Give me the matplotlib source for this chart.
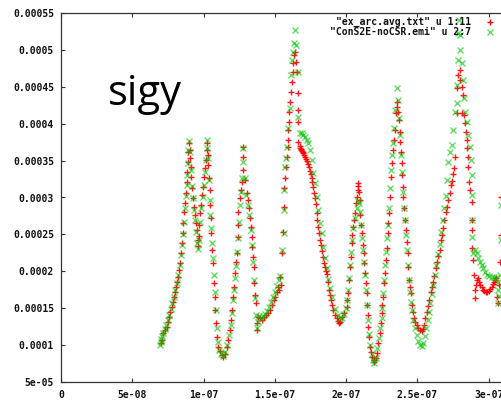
import matplotlib
matplotlib.use("Agg")
import matplotlib.pyplot as plt
from matplotlib.lines import Line2D
import numpy as np

# ---- data (x in ns, y in 1e-6) ----
red_x = [70.1,70.8,71.7,72.9,74.1,75.0,76.0,76.8,77.6,78.5,79.2,79.9,80.6,81.3,82.3,82.8,83.5,84.2,84.6,85.3,85.8,86.5,87.0,87.7,88.1,88.7,89.3,89.4,89.8,
         90.5,90.8,91.2,91.5,92.1,92.8,93.5,94.0,94.5,95.2,95.9,96.1,
         96.8,97.1,97.5,98.2,99.1,99.8,100.5,101.0,101.5,102.2,102.4,
         103.1,103.3,103.8,104.5,104.5,105.2,105.2,105.9,106.4,107.3,108.0,108.0,108.5,109.2,110.1,111.5,112.7,113.6,114.7,116.2,117.1,118.5,119.2,119.9,120.6,121.3,122.0,122.7,123.2,123.9,124.1,124.1,125.5,126.2,126.7,127.4,127.8,127.6,
         129.0,130.2,131.1,131.8,132.5,133.2,133.7,134.2,134.6,135.4,135.6,136.0,136.5,137.2,137.5,138.2,
         139.6,141.0,142.4,143.8,145.2,146.6,148.0,149.4,150.1,151.5,152.2,152.9,153.6,154.3,
         155.0,155.7,156.4,156.6,157.1,157.6,158.3,159.0,159.4,159.4,159.9,160.1,160.6,161.3,162.2,162.5,162.9,163.6,164.1,
         164.6,165.3,166.0,166.4,166.4,166.4,
         167.3,167.6,168.0,168.3,168.8,169.4,169.7,170.4,171.1,171.8,172.5,173.2,173.9,174.6,175.4,175.8,176.4,176.9,177.6,178.1,178.6,179.3,179.9,180.4,180.9,181.6,182.3,183.0,184.0,184.4,185.1,185.8,186.3,187.2,187.9,188.7,189.4,190.1,191.0,192.2,193.3,194.3,195.0,195.7,
         196.9,198.5,200.4,200.9,201.5,202.0,202.7,203.4,203.9,204.4,205.0,205.5,206.2,206.7,207.4,208.1,208.5,208.6,
         209.0,209.7,209.7,210.4,210.9,212.0,212.7,212.7,213.2,213.7,214.4,214.4,215.1,215.5,216.0,216.7,217.4,218.3,219.2,219.7,220.6,
         221.4,222.5,223.7,224.4,224.9,225.3,226.0,226.7,227.2,227.7,228.4,229.1,229.5,230.0,230.7,231.4,231.9,233.0,233.7,234.2,234.7,235.4,
         236.0,236.5,237.0,237.7,237.7,238.4,238.9,239.4,239.8,240.1,240.8,241.2,241.7,242.4,243.1,243.6,244.1,244.8,245.5,246.4,247.1,247.8,248.6,249.5,250.6,251.8,253.0,253.9,
         254.6,255.6,256.5,257.4,258.4,259.5,260.0,260.9,261.9,263.0,263.5,264.4,265.5,266.5,267.0,267.9,268.9,270.0,270.5,271.4,272.5,273.5,274.0,274.9,275.6,276.3,277.5,277.5,278.6,279.8,
         279.8,281.0,282.1,281.0,282.8,283.3,283.8,284.5,284.5,285.2,285.6,286.1,286.8,288.0,288.4,288.4,288.4,289.1,289.6,290.3,290.3,
         291.0,291.7,292.6,293.5,294.2,295.0,295.9,297.0,298.0,299.1,300.2,301.2,302.0,303.0,303.7,304.4,305.1,
         305.8,306.7,307.2,307.9,308.6,308.9]
red_y = [102.8,106.9,116.4,120.5,124.5,131.3,138.1,144.9,151.6,158.4,165.2,172.0,178.7,185.5,192.3,201.8,211.2,224.8,238.3,251.9,265.4,280.3,292.5,306.1,321.0,334.5,348.1,361.7,373.8,
         364.4,353.5,341.3,327.8,312.9,299.3,287.1,276.3,265.4,256.0,242.4,234.3,
         247.8,262.7,279.0,289.8,303.4,314.2,327.8,340.0,350.8,364.4,373.8,
         357.6,344.0,326.4,310.2,289.8,272.2,251.9,228.9,211.2,184.1,165.2,147.6,129.9,111.0,97.4,92.0,86.6,83.9,87.9,97.4,106.9,120.5,134.0,147.6,165.2,178.7,197.7,212.6,224.8,246.5,262.7,280.3,299.3,310.2,321.0,337.3,354.9,368.4,
         323.7,306.1,296.6,285.8,272.2,260.0,246.5,232.9,219.4,205.8,184.1,167.9,157.0,129.9,120.5,138.1,
         136.7,134.0,138.1,140.8,143.5,147.6,154.3,161.1,165.2,172.0,178.7,174.7,192.3,181.4,
         224.8,253.2,287.1,312.9,326.4,341.3,354.9,368.4,377.9,391.5,402.3,415.9,429.4,443.0,456.5,470.1,482.2,493.1,497.1,
         483.6,470.1,441.6,418.6,402.3,375.2,
         369.8,367.1,365.7,364.4,363.0,361.7,360.3,357.6,354.9,352.2,349.5,345.4,341.3,335.9,331.8,326.4,321.0,314.2,306.1,299.3,291.2,279.0,269.5,260.0,251.9,242.4,235.6,227.5,219.4,211.2,205.8,200.4,196.3,185.5,174.7,167.9,161.1,154.3,147.6,140.8,136.7,132.7,129.9,131.3,
         138.1,143.5,151.6,161.1,170.6,188.2,205.8,219.4,238.3,249.2,260.0,269.5,279.0,292.5,300.7,310.2,315.6,319.6,
         307.5,296.6,276.3,262.7,251.9,235.6,224.8,211.2,197.7,184.1,170.6,154.3,140.8,124.5,111.0,97.4,90.7,83.9,79.8,77.1,82.5,
         89.3,102.8,116.4,129.9,143.5,154.3,165.2,184.1,197.7,215.3,231.6,251.9,265.4,279.0,300.7,327.8,346.7,364.4,377.9,391.5,414.5,429.4,
         422.6,415.9,405.0,388.8,375.2,361.7,346.7,330.5,314.2,300.7,285.8,269.5,256.0,239.7,224.8,205.8,188.2,178.7,170.6,154.3,144.9,136.7,131.3,127.2,123.2,120.5,119.1,121.8,
         127.2,136.7,144.9,153.0,161.1,172.0,178.7,185.5,193.6,204.5,212.6,220.7,228.9,242.4,249.2,258.7,269.5,280.3,287.1,296.6,306.1,316.9,322.4,331.8,340.0,354.9,414.5,448.4,466.0,472.8,
         459.2,449.7,438.9,414.5,411.8,401.0,388.8,377.9,367.1,354.9,341.3,321.0,310.2,293.9,269.5,256.0,231.6,215.3,195.0,174.7,163.8,
         181.4,188.2,190.9,185.5,181.4,178.7,174.7,173.3,172.0,172.0,173.3,176.0,178.7,182.8,185.5,188.2,190.9,
         165.2,157.0,181.4,212.6,249.2,300.7]

green_x = [69.4,69.8,70.4,71.1,71.8,72.9,73.9,75.0,76.0,77.1,78.2,79.2,80.3,81.3,82.4,83.5,84.2,84.9,85.6,86.3,87.0,87.7,88.4,88.7,89.1,89.4,89.8,
           90.5,91.2,91.9,92.6,93.6,94.3,95.0,95.7,96.1,
           96.8,97.5,98.2,99.3,100.0,100.7,101.4,102.1,102.4,
           103.1,103.8,104.5,104.8,105.2,105.9,106.3,107.0,107.7,108.4,109.1,109.8,110.8,112.2,113.6,115.1,116.4,117.8,118.9,119.9,120.6,121.3,122.0,122.7,123.4,124.1,124.8,125.5,126.2,126.9,127.4,127.8,
           129.0,130.1,131.1,132.1,133.2,134.2,135.0,135.7,136.3,136.8,137.2,137.9,
           138.9,140.3,141.7,143.1,144.5,145.9,147.3,148.7,150.1,151.5,152.9,153.9,
           155.0,156.4,156.4,156.5,157.1,157.6,158.3,159.4,160.3,161.3,162.3,162.9,163.6,164.1,
           164.8,166.0,166.4,167.6,168.8,169.9,171.1,172.3,173.4,174.6,175.8,176.9,178.1,179.3,180.4,181.6,182.8,184.0,185.1,186.3,187.5,188.7,190.3,192.2,194.1,195.7,197.1,
           198.5,199.9,200.9,201.6,202.3,203.0,203.7,204.4,205.1,206.2,207.3,208.3,209.0,
           209.7,210.4,211.1,212.0,212.7,213.2,213.9,214.6,215.3,216.0,216.7,217.8,218.8,219.8,220.9,
           221.9,223.0,224.0,224.8,225.5,226.2,226.9,227.6,228.3,229.0,229.7,230.4,231.1,231.8,232.5,233.2,233.9,234.6,235.4,
           236.3,237.0,237.7,238.4,239.1,239.8,240.5,241.2,241.9,242.6,243.4,244.1,244.8,245.5,246.4,247.2,248.3,249.5,250.6,251.8,253.0,253.9,
           255.0,256.0,257.1,258.1,259.1,260.2,261.2,262.3,263.3,264.4,265.5,266.5,267.6,268.6,269.7,270.7,271.7,272.8,274.0,275.1,276.3,277.5,278.0,278.6,278.6,279.1,279.8,
           279.8,281.0,282.1,283.0,283.7,284.5,285.6,286.8,287.5,288.0,288.2,288.4,288.4,289.1,
           290.3,291.5,292.6,293.8,295.0,296.1,297.3,298.7,300.2,302.0,303.7,305.1,306.2,306.7,306.7,307.5,308.2,308.6,308.9]
green_y = [100.1,104.2,108.3,112.3,116.4,121.8,127.2,134.0,140.8,148.9,157.0,165.2,174.7,184.1,195.0,208.5,222.1,235.6,250.5,266.8,285.8,302.0,316.9,330.5,346.7,364.4,376.6,
           361.7,337.3,315.6,299.3,283.1,269.5,253.2,238.3,230.2,
           242.4,266.8,285.8,300.7,316.9,334.5,350.8,367.1,377.9,
           353.5,323.7,296.6,276.3,258.7,238.3,218.0,195.0,172.0,147.6,123.2,104.2,93.4,87.9,85.2,90.7,100.1,113.7,127.2,143.5,161.1,174.7,190.9,207.2,226.2,245.1,266.8,289.8,307.5,326.4,348.1,367.1,
           326.4,303.4,289.8,276.3,256.0,235.6,212.6,188.2,163.8,140.8,123.2,131.3,
           139.4,136.7,139.4,142.2,146.2,151.6,158.4,165.2,172.0,180.1,188.2,193.6,
           228.9,251.9,283.1,310.2,341.3,353.5,368.4,394.2,421.3,466.0,486.3,497.1,509.3,527.0,
           506.6,470.1,409.1,387.4,387.4,384.7,382.0,377.9,373.8,364.4,350.8,333.2,319.6,300.7,283.1,265.4,251.9,232.9,218.0,204.5,189.6,177.4,165.2,148.9,140.8,136.7,136.7,
           142.2,150.3,161.1,174.7,190.9,208.5,226.2,242.4,258.7,272.2,285.8,295.3,292.5,
           280.3,262.7,245.1,228.9,212.6,195.0,174.7,154.3,134.0,115.0,100.1,87.9,79.8,75.7,82.5,
           96.1,109.6,123.2,136.7,150.3,170.6,188.2,208.5,226.2,245.1,262.7,285.8,312.9,337.3,357.6,373.8,394.2,418.6,448.4,
           432.1,407.7,384.7,357.6,334.5,307.5,285.8,269.5,249.2,228.9,208.5,188.2,172.0,158.4,147.6,134.0,123.2,113.7,105.6,100.1,98.8,102.8,
           112.3,123.2,134.0,144.9,157.0,169.2,181.4,195.0,208.5,223.4,237.0,253.2,269.5,285.8,302.0,323.7,348.1,361.7,371.1,391.5,415.9,428.1,452.4,486.3,522.9,540.5,520.2,
           499.9,482.2,459.2,434.8,415.9,402.3,384.7,368.4,350.8,330.5,303.4,269.5,246.5,224.8,
           228.9,224.8,218.0,212.6,208.5,204.5,199.1,195.0,193.6,192.3,192.3,190.9,185.5,174.7,157.0,166.5,195.0,242.4,289.8]

ytick_vals = [5e-05,1e-04,1.5e-04,2e-04,2.5e-04,3e-04,3.5e-04,4e-04,4.5e-04,5e-04,5.5e-04]
ytick_labels = ["5e-05","0.0001","0.00015","0.0002","0.00025","0.0003","0.00035","0.0004","0.00045","0.0005","0.00055"]
xtick_vals = [0,5e-08,1e-07,1.5e-07,2e-07,2.5e-07,3e-07]
xtick_labels = ["0","5e-08","1e-07","1.5e-07","2e-07","2.5e-07","3e-07"]
legend_labels = ['"ex_arc.avg.txt" u 1:11', '"ConS2E-noCSR.emi" u 2:7']

W, H = 502, 404
fig = plt.figure(figsize=(W/100, H/100), dpi=100)
left, right_px, top, bottom = 61, 560, 13, 382
ax = fig.add_axes([left/W, (H-bottom)/H, (right_px-left)/W, (bottom-top)/H])

rx = np.array(red_x)*1e-9; ry = np.array(red_y)*1e-6
gx = np.array(green_x)*1e-9; gy = np.array(green_y)*1e-6
ax.plot(rx, ry, linestyle='none', marker='+', ms=5, mew=1.0, color='#ff0000', alpha=0.9)
ax.plot(gx, gy, linestyle='none', marker='x', ms=4.5, mew=1.0, color='#00c000', alpha=0.6)

ax.set_xlim(0, 3.5e-7)
ax.set_ylim(5e-05, 5.5e-04)
ax.set_xticks(xtick_vals)
ax.set_xticklabels(xtick_labels)
ax.set_yticks(ytick_vals)
ax.set_yticklabels(ytick_labels)
mono = dict(family='DejaVu Sans Mono', weight='bold', size=7)
for lab in ax.get_xticklabels() + ax.get_yticklabels():
    lab.set_fontfamily('DejaVu Sans Mono'); lab.set_fontweight('bold'); lab.set_fontsize(7)
ax.tick_params(direction='in', length=3, width=0.8, color='#333333', top=True, right=True,
               labelcolor='#111111')
ax.tick_params(axis='x', pad=6)
ax.tick_params(axis='y', pad=5)
for s in ax.spines.values():
    s.set_color('#333333'); s.set_linewidth(0.9)

# legend (manual, gnuplot style)
fig.text(471/W, 1-22/H, legend_labels[0], ha='right', va='center', color='#111111', **mono)
fig.text(471/W, 1-32/H, legend_labels[1], ha='right', va='center', color='#111111', **mono)
fig.add_artist(Line2D([490.5/W], [1-22/H], marker='+', ms=5, mew=1.0, color='#ff0000', linestyle='none'))
fig.add_artist(Line2D([490.5/W], [1-32/H], marker='x', ms=4.5, mew=1.0, color='#00c000', alpha=0.6, linestyle='none'))

fig.text(108/W, 1-105/H, 'sigy', ha='left', va='baseline', fontsize=30, family='Open Sans', color='black')

fig.savefig('out.png', dpi=100)
